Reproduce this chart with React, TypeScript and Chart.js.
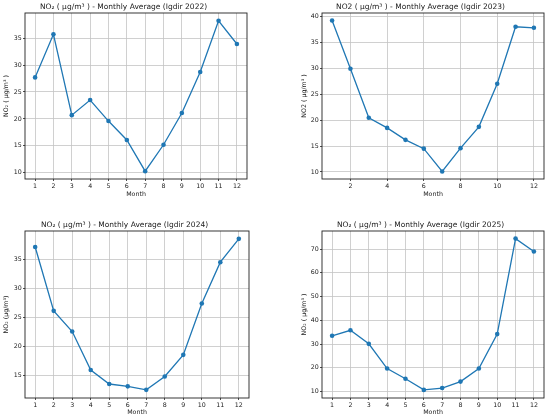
import { useEffect, useRef } from 'react';
import { Chart, registerables } from 'chart.js';

Chart.register(...registerables);

const months = [1, 2, 3, 4, 5, 6, 7, 8, 9, 10, 11, 12];
const no2_2022 = [27.7, 35.7, 20.7, 23.5, 19.6, 16.1, 10.3, 15.2, 21.1, 28.7, 38.2, 33.9];
const no2_2023 = [39.2, 29.9, 20.45, 18.5, 16.2, 14.5, 10.1, 14.6, 18.7, 27.0, 38.0, 37.8];
const no2_2024 = [37.1, 26.15, 22.6, 16.0, 13.6, 13.2, 12.6, 14.9, 18.6, 27.4, 34.5, 38.5];
const no2_2025 = [33.5, 35.8, 30.1, 19.7, 15.4, 10.7, 11.5, 14.2, 19.7, 34.2, 74.4, 69.0];

const xTicksAll = [1, 2, 3, 4, 5, 6, 7, 8, 9, 10, 11, 12];
const xTicksEven = [2, 4, 6, 8, 10, 12];
const yTicks2022 = [10, 15, 20, 25, 30, 35];
const yTicks2023 = [10, 15, 20, 25, 30, 35, 40];
const yTicks2024 = [15, 20, 25, 30, 35];
const yTicks2025 = [10, 20, 30, 40, 50, 60, 70];

const FONT = "'DejaVu Sans', sans-serif";
const BLUE = '#1f77b4';
const TEXT = '#1a1a1a';
const TICK_SIZE = 6.3;
const TITLE_SIZE = 7.5;

const framePlugin = {
  id: 'frame',
  beforeDatasetsDraw(chart: any) {
    const { ctx, chartArea: a } = chart;
    ctx.save();
    ctx.strokeStyle = '#222';
    ctx.lineWidth = 0.9;
    ctx.strokeRect(a.left, a.top, a.right - a.left, a.bottom - a.top);
    ctx.restore();
  },
};

interface PanelProps {
  title: string;
  yLabel: string;
  values: number[];
  xTicks: number[];
  yTicks: number[];
  yMin: number;
  yMax: number;
  w: number;
  h: number;
  // chart area box inside the canvas
  area: { l: number; r: number; t: number; b: number };
  padL: number;
  titleTop: number;
  yTitlePad: number;
  xTitlePad: number;
}

const Panel: React.FC<PanelProps> = (p) => {
  const ref = useRef<HTMLCanvasElement>(null);

  useEffect(() => {
    if (!ref.current) return;
    const titleLH = TITLE_SIZE * 1.2;
    const chart = new Chart(ref.current, {
      type: 'line',
      data: {
        datasets: [
          {
            data: months.map((m, i) => ({ x: m, y: p.values[i] })),
            borderColor: BLUE,
            backgroundColor: BLUE,
            borderWidth: 1.3,
            pointRadius: 2.3,
            pointBorderWidth: 0,
            pointBackgroundColor: BLUE,
            tension: 0,
          },
        ],
      },
      options: {
        responsive: false,
        animation: false,
        layout: { padding: { left: p.padL, right: p.w - p.area.r, top: 0, bottom: 0 } },
        plugins: {
          legend: { display: false },
          tooltip: { enabled: false },
          title: {
            display: true,
            text: p.title,
            color: TEXT,
            font: { family: FONT, size: TITLE_SIZE, weight: 'normal' },
            padding: { top: p.titleTop, bottom: p.area.t - p.titleTop - titleLH },
          },
        },
        scales: {
          x: {
            type: 'linear',
            min: 0.45,
            max: 12.55,
            afterBuildTicks: (s: any) => {
              s.ticks = p.xTicks.map((v) => ({ value: v }));
            },
            afterFit: (s: any) => {
              s.height = p.h - p.area.b;
            },
            grid: { color: '#c4c4c4', lineWidth: 0.8, tickColor: '#222', tickLength: 2 },
            border: { display: false },
            ticks: { color: TEXT, font: { family: FONT, size: TICK_SIZE }, padding: 1.3, maxRotation: 0 },
            title: {
              display: true,
              text: 'Month',
              color: TEXT,
              font: { family: FONT, size: TICK_SIZE },
              padding: { top: 0, bottom: p.xTitlePad },
            },
          },
          y: {
            min: p.yMin,
            max: p.yMax,
            afterBuildTicks: (s: any) => {
              s.ticks = p.yTicks.map((v) => ({ value: v }));
            },
            afterFit: (s: any) => {
              s.width = p.area.l - p.padL;
            },
            grid: { color: '#c4c4c4', lineWidth: 0.8, tickColor: '#222', tickLength: 2 },
            border: { display: false },
            ticks: { color: TEXT, font: { family: FONT, size: TICK_SIZE }, padding: 1.3 },
            title: {
              display: true,
              text: p.yLabel,
              color: TEXT,
              font: { family: FONT, size: TICK_SIZE },
              padding: { top: p.yTitlePad, bottom: 0 },
            },
          },
        },
      },
      plugins: [framePlugin],
    });
    return () => chart.destroy();
  }, [p]);

  return <canvas ref={ref} width={p.w} height={p.h} style={{ display: 'block' }} />;
};

const panels: PanelProps[] = [
  {
    title: 'NO₂ ( μg/m³ ) - Monthly Average (Igdir 2022)',
    yLabel: 'NO₂ ( μg/m³ )',
    values: no2_2022,
    xTicks: xTicksAll,
    yTicks: yTicks2022,
    yMin: 8.85,
    yMax: 39.65,
    w: 275,
    h: 210,
    area: { l: 25, r: 247, t: 13, b: 179 },
    padL: 0,
    titleTop: 2.2,
    yTitlePad: 2.9,
    xTitlePad: 12,
  },
  {
    title: 'NO2 ( μg/m³ ) - Monthly Average (Igdir 2023)',
    yLabel: 'NO2 ( μg/m³ )',
    values: no2_2023,
    xTicks: xTicksEven,
    yTicks: yTicks2023,
    yMin: 8.65,
    yMax: 40.65,
    w: 275,
    h: 210,
    area: { l: 47, r: 269, t: 13, b: 179 },
    padL: 22,
    titleTop: 2.2,
    yTitlePad: 3.5,
    xTitlePad: 12,
  },
  {
    title: 'NO₂ ( μg/m³ ) - Monthly Average (Igdir 2024)',
    yLabel: 'NO₂ (μg/m³)',
    values: no2_2024,
    xTicks: xTicksAll,
    yTicks: yTicks2024,
    yMin: 11.2,
    yMax: 39.85,
    w: 275,
    h: 209,
    area: { l: 25, r: 249, t: 21, b: 188 },
    padL: 0,
    titleTop: 10.2,
    yTitlePad: 2.2,
    xTitlePad: 3,
  },
  {
    title: 'NO₂ ( μg/m³ ) - Monthly Average (Igdir 2025)',
    yLabel: 'NO₂ ( μg/m³ )',
    values: no2_2025,
    xTicks: xTicksAll,
    yTicks: yTicks2025,
    yMin: 7.3,
    yMax: 77.6,
    w: 275,
    h: 209,
    area: { l: 47, r: 269, t: 21, b: 188 },
    padL: 22,
    titleTop: 10.2,
    yTitlePad: 3.5,
    xTitlePad: 3,
  },
];

export default function App() {
  return (
    <div
      style={{
        position: 'absolute',
        left: 0,
        top: 0,
        width: 550,
        height: 419,
        background: '#fff',
        display: 'grid',
        gridTemplateColumns: '275px 275px',
        gridTemplateRows: '210px 209px',
      }}
    >
      {panels.map((p, i) => (
        <Panel key={i} {...p} />
      ))}
    </div>
  );
}
